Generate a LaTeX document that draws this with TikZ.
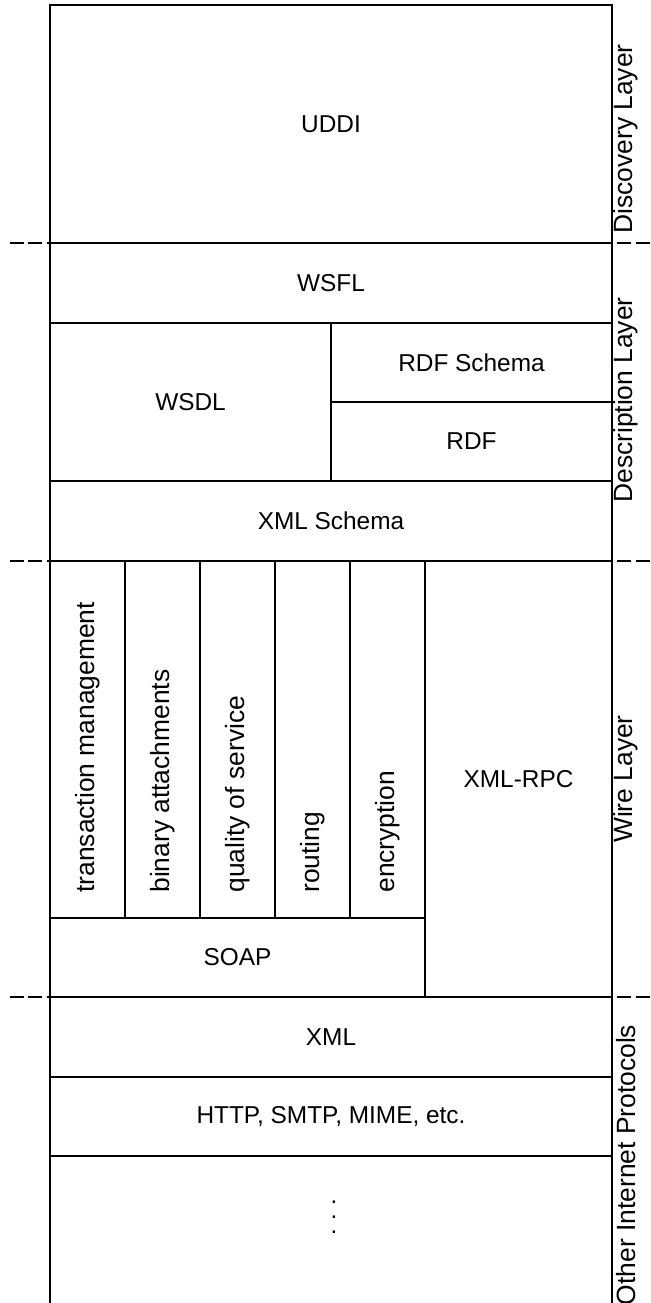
\documentclass[tikz,border=0pt]{standalone}
\usepackage{fontspec}
\setmainfont{Liberation Sans}
\usetikzlibrary{positioning,calc}
\tikzstyle{layerbox} = [draw, rectangle, anchor=north west, inner sep=0, outer sep=0, line width=0.8pt, font=\fontsize{12.2}{14}\selectfont]
\tikzstyle{coltext} = [rotate=90, anchor=west, inner sep=0, font=\fontsize{13.2}{15}\selectfont]
\tikzstyle{sidetext} = [rotate=90, inner sep=0, font=\fontsize{13.2}{15}\selectfont]
\tikzstyle{layerline} = [dashed, dash pattern=on 7pt off 2.2pt, line width=1.3pt]
\newcommand{\stackdots}{\vbox{\baselineskip=7.5pt\lineskiplimit=-100pt\hbox{.}\hbox{.}\hbox{.}}}

\begin{document}
\begin{tikzpicture}[x=0.5pt,y=-0.5pt]
    \useasboundingbox (0,0) rectangle (651,1303);
    % Discovery layer
    \node[layerbox,minimum width=281pt,minimum height=119pt] (UDDI) at (50,5) {UDDI};
    % Description layer
    \node[layerbox,minimum width=281pt,minimum height=40pt] (WSFL) at (50,243) {WSFL};
    \node[layerbox,minimum width=140.5pt,minimum height=79pt] (WSDL) at (50,323) {WSDL};
    \node[layerbox,minimum width=140.5pt,minimum height=39.5pt] (RDFS) at (331,323) {RDF Schema};
    \node[layerbox,minimum width=140.5pt,minimum height=39.5pt] (RDF) at (331,402) {RDF};
    \node[layerbox,minimum width=281pt,minimum height=40pt] (XMLS) at (50,481) {XML Schema};
    % Wire layer
    \foreach \i/\txt in {0/transaction management,1/binary attachments,2/quality of service,3/routing,4/encryption}
    {
      \node[layerbox,minimum width=37.5pt,minimum height=178.5pt] (col\i) at (50+75*\i,561) {};
      \node[coltext] (coltxt\i) at ([yshift=12.5pt]col\i.south) {\txt};
    }
    \node[layerbox,minimum width=187.5pt,minimum height=39.5pt] (SOAP) at (50,918) {SOAP};
    \node[layerbox,minimum width=93.5pt,minimum height=218pt] (XMLRPC) at (425,561) {XML-RPC};
    % Other internet protocols
    \node[layerbox,minimum width=281pt,minimum height=40pt] (XML) at (50,997) {XML};
    \node[layerbox,minimum width=281pt,minimum height=39.5pt] (HTTP) at (50,1077) {HTTP, SMTP, MIME, etc.};
    \coordinate (Bottom Left) at (50,1310);
    \coordinate (Bottom Right) at (612,1310);
    \draw[line width=0.8pt] (HTTP.south west) -- (Bottom Left);
    \draw[line width=0.8pt] (HTTP.south east) -- (Bottom Right);
    \node[inner sep=0,font=\fontsize{12}{7.5}\selectfont] (Dots) at (334,1217) {\stackdots};
    % Layer separators
    \draw[layerline] (10,243) -- (651,243);
    \draw[layerline] (10,561) -- (651,561);
    \draw[layerline] (10,997) -- (651,997);
    % Layer names
    \node[sidetext] (Discovery) at (626,139) {Discovery Layer};
    \node[sidetext] (Description) at (626,400) {Description Layer};
    \node[sidetext] (Wire) at (626,779) {Wire Layer};
    \node[sidetext] (Other) at (626,1165) {Other Internet Protocols};
\end{tikzpicture}
\end{document}
